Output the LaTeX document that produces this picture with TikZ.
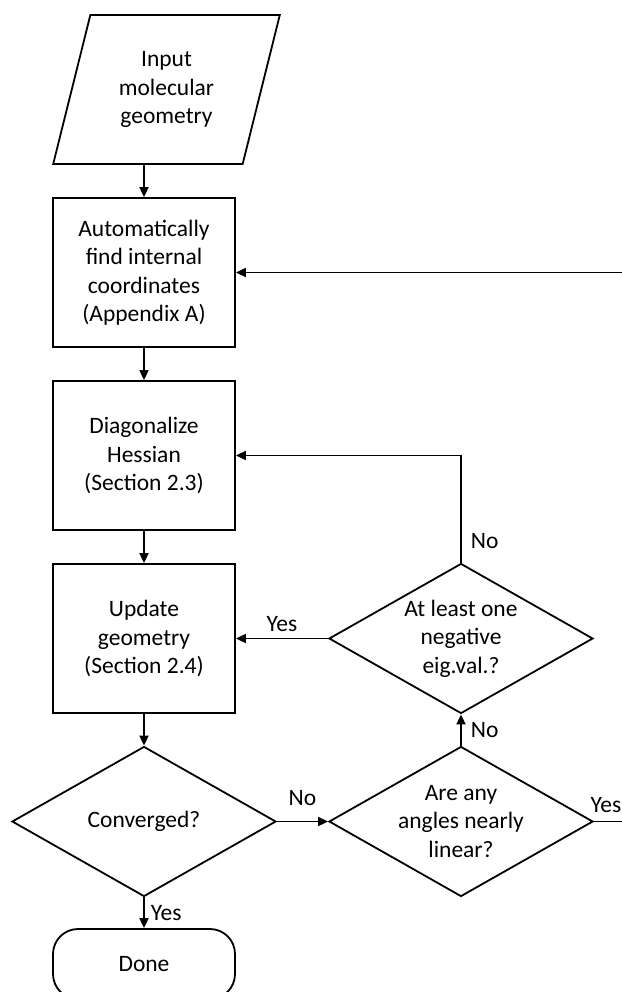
\documentclass[tikz,border=0pt]{standalone}
\usepackage{fontspec}
\setmainfont{Carlito}
\usetikzlibrary{arrows.meta,shapes.geometric,positioning}

\begin{document}
\begin{tikzpicture}[>={Triangle[length=10pt,width=9pt]}, line width=1.8pt, node distance=183pt, on grid]

	\tikzset{
		ionode/.style = {trapezium, draw, trapezium left angle=73, trapezium right angle=107,
			trapezium stretches=true, minimum width=227pt, minimum height=149pt,
			inner sep=0pt, align=center, font=\fontsize{23.5}{28.5}\selectfont},
		procnode/.style = {rectangle, draw, minimum width=182pt, minimum height=149pt,
			inner sep=0pt, align=center, font=\fontsize{23.5}{28.5}\selectfont},
		decnode/.style = {diamond, draw, aspect=1.76, minimum width=264pt, minimum height=150pt,
			inner sep=0pt, align=center, font=\fontsize{23.5}{28.5}\selectfont},
		endnode/.style = {rectangle, draw, rounded corners=25pt, minimum width=182pt,
			minimum height=70pt, font=\fontsize{23.5}{28.5}\selectfont},
		lbl/.style = {inner sep=6pt, font=\fontsize{23.5}{28.5}\selectfont}
	}

	\useasboundingbox (0,0) rectangle (621pt,-992pt);

	\node[ionode] (input) at (166.5pt,-89.5pt) {Input\\molecular\\geometry};
	\node[procnode] (find) [below = 183pt of input, xshift = -22.5pt] {Automatically\\find internal\\coordinates\\(Appendix A)};
	\node[procnode] (hess) [below = of find] {Diagonalize\\Hessian\\(Section 2.3)};
	\node[procnode] (update) [below = of hess] {Update\\geometry\\(Section 2.4)};
	\node[decnode] (conv) [below = of update] {Converged?};
	\node[endnode] (done) [below = 142.5pt of conv] {Done};

	\node[decnode] (negeig) [right = 317pt of update] {At least one\\negative\\eig.val.?};
	\node[decnode] (linear) [right = 317pt of conv] {Are any\\angles nearly\\linear?};

	\path[->]
	(input.south -| find.north) edge node {} (find)
	(find) edge node {} (hess)
	(hess) edge node {} (update)
	(update) edge node {} (conv)
	(conv) edge node[lbl, right] {Yes} (done)
			edge node[lbl, above, yshift = 9pt] {No} (linear)
	(linear) edge node[lbl, right, xshift = 3pt] {No} (negeig)
	(negeig) edge node[lbl, above] {Yes} (update)
	;

	% loops back to the top
	\draw[->] (negeig.north) |- node[lbl, pos = 0.1, right, xshift = 3pt] {No} (hess.east);
	\draw[->] (linear.east) -- node[lbl, above, pos = 0.3, yshift = 2pt] {Yes} ++(40pt,0) |- (find.east);

\end{tikzpicture}
\end{document}
